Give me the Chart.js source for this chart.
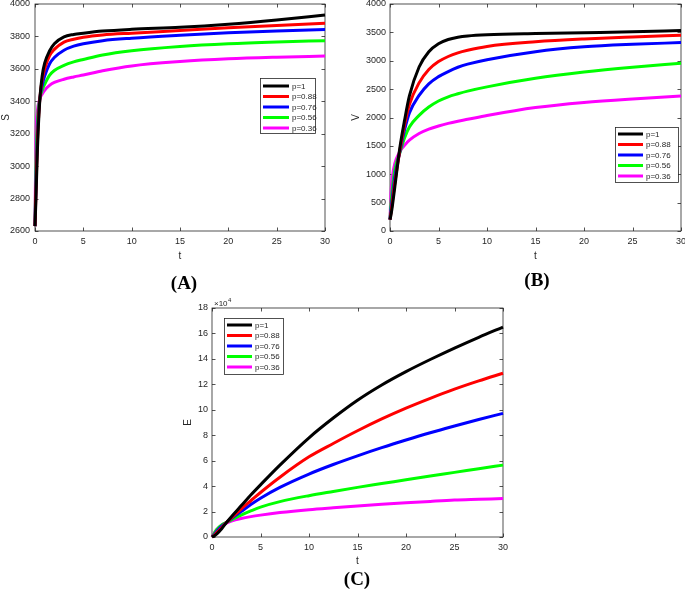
<!DOCTYPE html>
<html><head><meta charset="utf-8">
<script src="https://cdn.jsdelivr.net/npm/chart.js@4/dist/chart.umd.min.js"></script>
<style>
body{margin:0;background:#fff;width:685px;height:594px;position:relative;overflow:hidden}
canvas{position:absolute}
.lab{position:absolute;font-family:"Liberation Serif","Times New Roman",serif;font-weight:bold;font-size:19px;color:#000;transform:translate(-50%,-50%);white-space:nowrap}
</style></head><body>
<canvas id="cA" width="345" height="280" style="left:0px;top:-10px"></canvas>
<canvas id="cB" width="345" height="280" style="left:350px;top:-10px"></canvas>
<canvas id="cC" width="370" height="290" style="left:150px;top:290px"></canvas>
<div class="lab" style="left:184px;top:283px">(A)</div>
<div class="lab" style="left:537px;top:280px">(B)</div>
<div class="lab" style="left:357px;top:579px">(C)</div>
<script>
// ---------- DATA ----------
const seriesLabels = ["p=1", "p=0.88", "p=0.76", "p=0.56", "p=0.36"];
const seriesColors = ["#000000", "#ff0000", "#0000ff", "#00ff00", "#ff00ff"];

// (A) S(t)
const tA = [0, 0.1, 0.25, 0.5, 0.75, 1, 1.5, 2, 3, 4, 5, 7, 10, 15, 20, 25, 30];
const S_p1   = [2630, 2800, 3100, 3410, 3560, 3635, 3710, 3755, 3797, 3812, 3820, 3833, 3844, 3856, 3875, 3901, 3932];
const S_p088 = [2630, 2850, 3150, 3415, 3535, 3600, 3680, 3720, 3765, 3783, 3795, 3809, 3820, 3836, 3853, 3868, 3881];
const S_p076 = [2630, 2900, 3200, 3415, 3500, 3555, 3630, 3670, 3715, 3740, 3755, 3774, 3789, 3807, 3822, 3833, 3842];
const S_p056 = [2630, 3000, 3270, 3415, 3470, 3505, 3560, 3590, 3622, 3643, 3658, 3686, 3712, 3738, 3755, 3766, 3774];
const S_p036 = [2630, 3180, 3340, 3415, 3445, 3468, 3498, 3516, 3536, 3550, 3562, 3588, 3618, 3645, 3662, 3672, 3679];

// (B) V(t)
const tB = [0, 0.1, 0.25, 0.5, 1, 1.5, 2, 3, 4, 5, 6, 7, 8, 10, 15, 20, 25, 30];
const V_p1   = [200, 280, 450, 780, 1450, 1950, 2380, 2890, 3160, 3300, 3375, 3415, 3437, 3458, 3480, 3495, 3510, 3535];
const V_p088 = [200, 320, 520, 850, 1400, 1870, 2230, 2610, 2845, 2985, 3075, 3140, 3185, 3253, 3335, 3385, 3420, 3450];
const V_p076 = [200, 380, 600, 950, 1380, 1780, 2080, 2390, 2593, 2720, 2810, 2885, 2940, 3019, 3160, 3245, 3290, 3320];
const V_p056 = [200, 480, 750, 1080, 1370, 1640, 1834, 2038, 2184, 2290, 2365, 2418, 2465, 2540, 2690, 2800, 2885, 2955];
const V_p036 = [200, 666, 958, 1191, 1396, 1510, 1600, 1717, 1795, 1850, 1897, 1935, 1968, 2035, 2175, 2265, 2327, 2377];

// (C) E(t), in units of 10^4
const tC = [0, 0.25, 0.5, 1, 1.5, 2, 3, 4, 5, 7, 10, 12.5, 15, 17.5, 20, 22.5, 25, 27.5, 30];
const E_p1   = [0, 0.1, 0.25, 0.65, 1.15, 1.6, 2.45, 3.3, 4.1, 5.65, 7.8, 9.35, 10.75, 11.95, 13.0, 13.95, 14.85, 15.7, 16.5];
const E_p088 = [0, 0.15, 0.35, 0.75, 1.15, 1.5, 2.2, 2.85, 3.5, 4.7, 6.3, 7.35, 8.35, 9.28, 10.13, 10.9, 11.62, 12.27, 12.87];
const E_p076 = [0, 0.2, 0.45, 0.85, 1.15, 1.45, 2.0, 2.55, 3.05, 3.9, 4.95, 5.7, 6.38, 7.02, 7.62, 8.19, 8.72, 9.23, 9.72];
const E_p056 = [0, 0.3, 0.6, 0.95, 1.15, 1.35, 1.72, 2.05, 2.35, 2.78, 3.25, 3.58, 3.9, 4.2, 4.5, 4.8, 5.08, 5.37, 5.65];
const E_p036 = [0, 0.35, 0.6, 0.95, 1.1, 1.25, 1.45, 1.6, 1.72, 1.92, 2.15, 2.3, 2.44, 2.57, 2.69, 2.8, 2.9, 2.96, 3.02];

// tick settings
const xTicks = {min: 0, max: 30, step: 5};
const yTicksA = {min: 2600, max: 4000, step: 200};
const yTicksB = {min: 0, max: 4000, step: 500};
const yTicksC = {min: 0, max: 18, step: 2};

// ---------- RENDER ----------
const AX = '#262626';
const FONT = '"Liberation Sans", Arial, Helvetica, sans-serif';

const matlabPlugin = {
  id: 'matlab',
  beforeDatasetsDraw(chart) {
    const {ctx, chartArea: a, scales} = chart;
    ctx.save();
    ctx.strokeStyle = AX; ctx.lineWidth = 0.8;
    ctx.strokeRect(a.left, a.top, a.right - a.left, a.bottom - a.top);
    const tl = 3.5;
    ctx.beginPath();
    scales.x.ticks.forEach(t => {
      const px = Math.round(scales.x.getPixelForValue(t.value)) + 0.5;
      ctx.moveTo(px, a.bottom); ctx.lineTo(px, a.bottom - tl);
      ctx.moveTo(px, a.top); ctx.lineTo(px, a.top + tl);
    });
    scales.y.ticks.forEach(t => {
      const py = Math.round(scales.y.getPixelForValue(t.value)) + 0.5;
      ctx.moveTo(a.left, py); ctx.lineTo(a.left + tl, py);
      ctx.moveTo(a.right, py); ctx.lineTo(a.right - tl, py);
    });
    ctx.stroke();
    ctx.restore();
  },
  afterDatasetsDraw(chart, args, opts) {
    const {ctx, chartArea: a} = chart;
    ctx.save();
    const L = opts.legend;
    if (L) {
      const bx = a.left + L.dx, by = a.top + L.dy;
      ctx.fillStyle = '#fff';
      ctx.fillRect(bx, by, L.w, L.h);
      ctx.strokeStyle = AX; ctx.lineWidth = 0.8;
      ctx.strokeRect(bx + 0.5, by + 0.5, L.w, L.h);
      ctx.font = '8px ' + FONT;
      ctx.textBaseline = 'middle';
      chart.data.datasets.forEach((ds, i) => {
        const y = by + L.first + i * L.gap;
        ctx.strokeStyle = ds.borderColor; ctx.lineWidth = 3;
        ctx.beginPath(); ctx.moveTo(bx + L.l0, y); ctx.lineTo(bx + L.l1, y); ctx.stroke();
        ctx.fillStyle = AX;
        ctx.fillText(ds.label, bx + L.tx, y + 0.5);
      });
    }
    if (opts.exponent) {
      ctx.fillStyle = AX;
      ctx.textBaseline = 'alphabetic';
      ctx.font = '8px ' + FONT;
      const x0 = a.left + 2, y0 = a.top - 2;
      ctx.fillText('\u00d710', x0, y0);
      const w = ctx.measureText('\u00d710').width;
      ctx.font = '6px ' + FONT;
      ctx.fillText(opts.exponent, x0 + w + 0.5, y0 - 4);
    }
    ctx.restore();
  }
};

function makeDatasets(t, arrays) {
  return arrays.map((arr, i) => ({
    label: seriesLabels[i],
    data: t.map((x, k) => ({x: x, y: arr[k]})),
    borderColor: seriesColors[i],
    backgroundColor: seriesColors[i],
    borderWidth: 3,
    pointRadius: 0,
    cubicInterpolationMode: 'monotone',
    fill: false,
    clip: 4
  }));
}

function makeChart(id, t, arrays, yT, yTitle, cfg) {
  return new Chart(document.getElementById(id), {
    type: 'line',
    data: {datasets: makeDatasets(t, arrays)},
    plugins: [matlabPlugin],
    options: {
      responsive: false,
      animation: false,
      events: [],
      layout: {padding: cfg.pad},
      plugins: {
        legend: {display: false},
        tooltip: {enabled: false},
        matlab: {legend: cfg.legend, exponent: cfg.exponent}
      },
      scales: {
        x: {
          type: 'linear', min: xTicks.min, max: xTicks.max,
          ticks: {stepSize: xTicks.step, color: AX, font: {size: 9, family: FONT}, padding: cfg.xpad, maxRotation: 0,
                  callback: v => String(v)},
          grid: {display: false, drawTicks: false},
          border: {display: false},
          title: {display: true, text: 't', color: AX, font: {size: 10, family: FONT}, padding: 0},
          afterFit: s => { s.height = cfg.xh; }
        },
        y: {
          type: 'linear', min: yT.min, max: yT.max,
          ticks: {stepSize: yT.step, color: AX, font: {size: 9, family: FONT}, padding: cfg.ypad,
                  callback: v => String(v)},
          grid: {display: false, drawTicks: false},
          border: {display: false},
          title: {display: true, text: yTitle, color: AX, font: {size: 10, family: FONT}, padding: 0},
          afterFit: s => { s.width = cfg.yw; }
        }
      }
    }
  });
}

makeChart('cA', tA, [S_p1, S_p088, S_p076, S_p056, S_p036], yTicksA, 'S', {
  pad: {left: 0, right: 20, top: 14, bottom: 8}, yw: 35, xh: 31, xpad: 5, ypad: 5,
  legend: {dx: 225, dy: 74, w: 55, h: 55, first: 8, gap: 10.5, l0: 3, l1: 29, tx: 32}
});
makeChart('cB', tB, [V_p1, V_p088, V_p076, V_p056, V_p036], yTicksB, 'V', {
  pad: {left: 0, right: 14, top: 14, bottom: 8}, yw: 40, xh: 31, xpad: 5, ypad: 4,
  legend: {dx: 225, dy: 123, w: 63, h: 55, first: 7, gap: 10.5, l0: 3, l1: 28, tx: 31}
});
makeChart('cC', tC, [E_p1, E_p088, E_p076, E_p056, E_p036], yTicksC, 'E', {
  pad: {left: 32, right: 17, top: 18, bottom: 13}, yw: 30, xh: 30, xpad: 5, ypad: 4,
  legend: {dx: 12, dy: 10, w: 59, h: 56, first: 7, gap: 10.5, l0: 3, l1: 28, tx: 31},
  exponent: '4'
});
</script>
</body></html>
